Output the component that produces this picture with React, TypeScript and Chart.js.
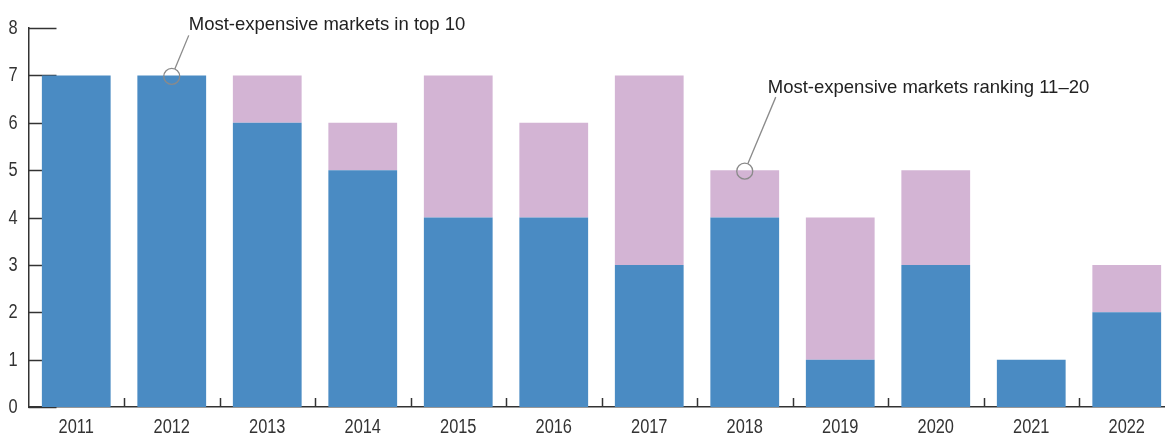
import React, { useEffect, useRef } from "react";
import { Chart, registerables } from "chart.js";

Chart.register(...registerables);

const categories = ["2011", "2012", "2013", "2014", "2015", "2016", "2017", "2018", "2019", "2020", "2021", "2022"];
const top10 = [7, 7, 6, 5, 4, 4, 3, 4, 1, 3, 1, 2];
const rank11to20 = [0, 0, 1, 1, 3, 2, 4, 1, 3, 2, 0, 1];
const yTickValues = [0, 1, 2, 3, 4, 5, 6, 7, 8];
const yTickLabels = ["0", "1", "2", "3", "4", "5", "6", "7", "8"];

const annotations = [
  { text: "Most-expensive markets in top 10", index: 1, value: 7, lineDx: 17, lineDy: -41, textDx: 17, textDy: -46 },
  { text: "Most-expensive markets ranking 11\u201320", index: 7, value: 5, lineDx: 31, lineDy: -74, textDx: 23, textDy: -78 },
];

const AXIS = "#333333";
const LABEL_FONT = "20.5px 'Liberation Sans', Arial, sans-serif";
const SQUEEZE = 0.8;

function condensedText(ctx: CanvasRenderingContext2D, text: string, x: number, y: number, align: "left" | "right" | "center") {
  ctx.save();
  ctx.font = LABEL_FONT;
  ctx.textAlign = align;
  ctx.textBaseline = "alphabetic";
  ctx.translate(x, y);
  ctx.scale(SQUEEZE, 1);
  ctx.fillText(text, 0, 0);
  ctx.restore();
}

const decor = {
  id: "decor",
  beforeDatasetsDraw(chart: any) {
    const { ctx, chartArea, scales } = chart;
    const x = scales.x;
    const y = scales.y;
    ctx.save();
    ctx.strokeStyle = AXIS;
    ctx.lineWidth = 1.5;
    for (const v of yTickValues) {
      const py = Math.round(y.getPixelForValue(v)) + 0.5;
      ctx.beginPath();
      ctx.moveTo(chartArea.left, py);
      ctx.lineTo(chartArea.left + 28, py);
      ctx.stroke();
    }
    for (let i = 1; i < categories.length; i++) {
      const px = Math.round((x.getPixelForValue(i - 1) + x.getPixelForValue(i)) / 2) + 0.5;
      ctx.beginPath();
      ctx.moveTo(px, chartArea.bottom);
      ctx.lineTo(px, chartArea.bottom - 9);
      ctx.stroke();
    }
    ctx.fillStyle = AXIS;
    yTickValues.forEach((v, i) => {
      const py = y.getPixelForValue(v);
      condensedText(ctx, yTickLabels[i], chartArea.left - 11, py + 6, "right");
    });
    categories.forEach((c, i) => {
      const px = x.getPixelForValue(i);
      condensedText(ctx, c, px, chartArea.bottom + 26, "center");
    });
    ctx.restore();
  },
  afterDatasetsDraw(chart: any) {
    const { ctx, scales } = chart;
    const x = scales.x;
    const y = scales.y;
    ctx.save();
    for (const a of annotations) {
      const cx = x.getPixelForValue(a.index);
      const cy = y.getPixelForValue(a.value) + 1;
      const r = 8;
      ctx.strokeStyle = "#8a8a8a";
      ctx.lineWidth = 1.3;
      ctx.beginPath();
      ctx.arc(cx, cy, r, 0, Math.PI * 2);
      ctx.stroke();
      const len = Math.hypot(a.lineDx, a.lineDy);
      const ux = a.lineDx / len;
      const uy = a.lineDy / len;
      ctx.beginPath();
      ctx.moveTo(cx + ux * r, cy + uy * r);
      ctx.lineTo(cx + a.lineDx, cy + a.lineDy);
      ctx.stroke();
      ctx.fillStyle = "#222222";
      ctx.font = "18.5px 'Liberation Sans', Arial, sans-serif";
      ctx.textAlign = "left";
      ctx.textBaseline = "alphabetic";
      ctx.fillText(a.text, cx + a.textDx, cy + a.textDy);
    }
    ctx.restore();
  },
};

export default function App() {
  const ref = useRef<HTMLCanvasElement | null>(null);
  useEffect(() => {
    if (!ref.current) return;
    const chart = new Chart(ref.current, {
      type: "bar",
      data: {
        labels: categories,
        datasets: [
          { label: "Most-expensive markets in top 10", data: top10, backgroundColor: "#4a8bc3", borderWidth: 0 },
          { label: "Most-expensive markets ranking 11–20", data: rank11to20, backgroundColor: "#d3b4d4", borderWidth: 0 },
        ],
      },
      options: {
        responsive: false,
        animation: false,
        layout: { padding: { top: 28, right: 10.5, left: 0, bottom: 0 } },
        datasets: { bar: { categoryPercentage: 1, barPercentage: 0.72 } },
        plugins: { legend: { display: false }, tooltip: { enabled: false } },
        scales: {
          x: {
            stacked: true,
            grid: { display: false, drawTicks: false },
            border: { display: true, color: AXIS, width: 1.5 },
            ticks: { display: false },
            afterFit: (s: any) => { s.height = 29; },
          },
          y: {
            stacked: true,
            min: 0,
            max: 8,
            grid: { display: false, drawTicks: false },
            border: { display: true, color: AXIS, width: 1.5 },
            ticks: { stepSize: 1, display: false },
            afterFit: (s: any) => { s.width = 28.5; },
          },
        },
      },
      plugins: [decor],
    });
    return () => chart.destroy();
  }, []);
  return (
    <div style={{ position: "fixed", left: 0, top: 0, width: 1165, height: 436, overflow: "hidden", background: "#fff" }}>
      <canvas ref={ref} width={1185} height={436} style={{ display: "block" }} />
    </div>
  );
}
